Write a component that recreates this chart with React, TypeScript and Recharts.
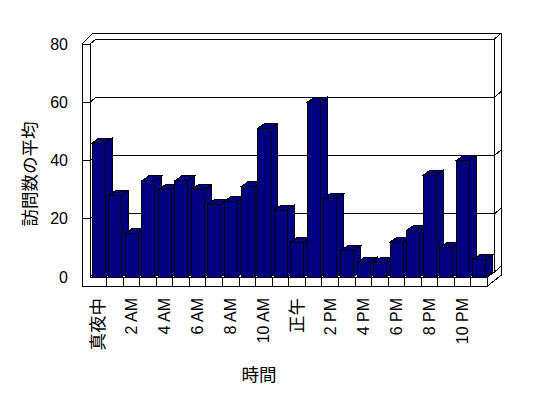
import React from "react";
import { Bar, BarChart, CartesianGrid, Label, ReferenceArea, XAxis, YAxis } from "recharts";

const hours = [
  "真夜中", "1 AM", "2 AM", "3 AM", "4 AM", "5 AM", "6 AM", "7 AM", "8 AM", "9 AM", "10 AM", "11 AM",
  "正午", "1 PM", "2 PM", "3 PM", "4 PM", "5 PM", "6 PM", "7 PM", "8 PM", "9 PM", "10 PM", "11 PM",
];
const visits = [46, 28, 15, 33, 30, 33, 30, 25, 26, 31, 51, 23, 12, 60, 27, 9, 5, 5, 12, 16, 35, 10, 40, 6];
const yTicks = [0, 20, 40, 60, 80];

const data = hours.map((hour, i) => ({ hour, visits: visits[i] }));

// depth of the fake 3d box / bars
const DX = 7;
const DY = 5;
const NAVY = "#000080";
const FONT = "'Liberation Sans', 'Noto Sans CJK JP', sans-serif";
const isCjk = (s: string) => /[^\x00-\x7f]/.test(s);

function Bar3D(props: any) {
  const { x, y, width, height } = props;
  const r = x + width;
  const b = y + height;
  return (
    <g stroke="#000" strokeWidth={1} fill={NAVY}>
      <polygon points={`${x},${y} ${x + DX},${y - DY} ${r + DX},${y - DY} ${r},${y}`} />
      <polygon points={`${r},${y} ${r + DX},${y - DY} ${r + DX},${b - DY} ${r},${b}`} />
      <rect x={x} y={y} width={width} height={height} />
    </g>
  );
}

// walls and floor of the box, drawn from the plot rect
function Frame(props: any) {
  const { x: L, y: T, width, height } = props;
  const R = L + width;
  const B = T + height;
  const W = L - 8;
  const FB = B + 9;
  const lines: [number, number, number, number][] = [
    [W, T, W, FB],
    [L, T, L, B],
    [W, T, L, T],
    [W, FB, R, FB],
    [L, B, R, B],
    [R, B, R, FB],
    [W, T, W + 11, T - 11],
    [W + 11, T - 11, R + 14, T - 11],
    [R + 14, T - 11, R + 14, B - 2],
    [R + 14, B - 2, R, FB],
    [L, T, L + 6, T - DY],
    [L + 6, T - DY, R + DX, T - DY],
    [R + DX, T - DY, R + 14, T - 11],
    [R + DX, T - DY, R + DX, B - DY],
    [L + 6, B - DY, R + DX, B - DY],
    [L, B, L + 6, B - DY],
    [R, B, R + DX, B - DY],
  ];
  return (
    <g stroke="#000" strokeWidth={1} fill="none">
      {lines.map(([a, b, c, d], i) => (
        <line key={i} x1={a} y1={b} x2={c} y2={d} />
      ))}
    </g>
  );
}

function GridLine(props: any) {
  const { x1, x2, y1, y, height } = props;
  const bottom = y !== undefined && height !== undefined ? y + height : null;
  return (
    <g key={`g-${y1}`} stroke="#000" strokeWidth={1} fill="none">
      {bottom !== null && Math.abs(y1 - bottom) > 1 && <line x1={x1 - 8} y1={y1} x2={x1} y2={y1} />}
      <line x1={x1} y1={y1} x2={x1 + 6} y2={y1 - DY} />
      <line x1={x1 + 6} y1={y1 - DY} x2={x2 + DX} y2={y1 - DY} />
      <line x1={x2 + DX} y1={y1 - DY} x2={x2 + 14} y2={y1 - 11} />
    </g>
  );
}

function XTick(props: any) {
  const { x, y, payload, index, width, visibleTicksCount } = props;
  const band = width && visibleTicksCount ? width / visibleTicksCount : 397.5 / 24;
  const left = x - band / 2;
  const label = String(payload.value);
  const ty = y + 21;
  return (
    <g>
      {index > 0 && <line x1={left} y1={y} x2={left} y2={y + 9} stroke="#000" />}
      {index % 2 === 0 && (
        <text
          x={x}
          y={ty}
          transform={`rotate(-90 ${x} ${ty})`}
          textAnchor="end"
          dominantBaseline="central"
          fontSize={isCjk(label) ? 17.5 : 16}
          fontFamily={FONT}
          fill="#000"
        >
          {label}
        </text>
      )}
    </g>
  );
}

function YTick(props: any) {
  const { x, y, payload } = props;
  return (
    <text x={x} y={y} textAnchor="end" dominantBaseline="central" fontSize={16} fontFamily={FONT} fill="#000">
      {payload.value}
    </text>
  );
}

export default function App() {
  return (
    <div style={{ position: "absolute", left: 0, top: 0, background: "#fff", shapeRendering: "crispEdges" }}>
      <BarChart width={548} height={398} data={data} margin={{ top: 44, right: 60.5, bottom: 0, left: 40 }}>
        <CartesianGrid vertical={false} horizontal={(p: any) => <GridLine {...p} />} />
        <ReferenceArea y1={0} y2={80} shape={(p: any) => <Frame {...p} />} />
        <XAxis
          dataKey="hour"
          interval={0}
          height={121}
          axisLine={false}
          tickLine={false}
          tickSize={0}
          tickMargin={0}
          tick={(p: any) => <XTick {...p} />}
        >
          <Label
            content={() => (
              <text x={259} y={375} textAnchor="middle" dominantBaseline="central" fontSize={17.5} fontFamily={FONT} fill="#000">
                時間
              </text>
            )}
          />
        </XAxis>
        <YAxis
          domain={[0, 80]}
          ticks={yTicks}
          width={50}
          axisLine={false}
          tickLine={false}
          tickSize={0}
          tickMargin={22}
          tick={(p: any) => <YTick {...p} />}
        >
          <Label
            content={() => (
              <text
                x={30}
                y={174}
                transform="rotate(-90 30 174)"
                textAnchor="middle"
                dominantBaseline="central"
                fontSize={17.5}
                fontFamily={FONT}
                fill="#000"
              >
                訪問数の平均
              </text>
            )}
          />
        </YAxis>
        <Bar dataKey="visits" barSize={13} isAnimationActive={false} shape={(p: any) => <Bar3D {...p} />} />
      </BarChart>
    </div>
  );
}
